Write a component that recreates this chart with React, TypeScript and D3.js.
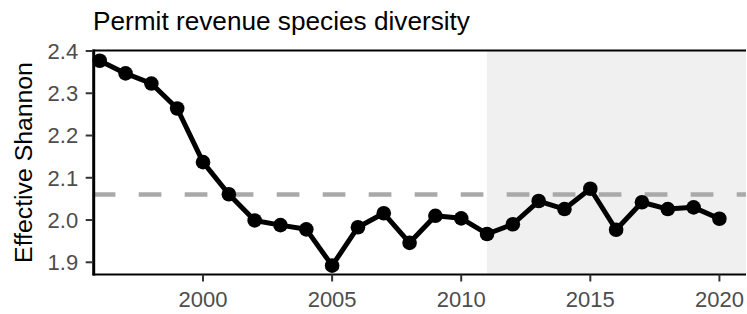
import React from "react";
import * as d3 from "d3";

const years = d3.range(1996, 2021);
const shannon = [
  2.377, 2.347, 2.323, 2.264, 2.137, 2.061, 1.999, 1.988, 1.978, 1.892,
  1.983, 2.016, 1.946, 2.01, 2.004, 1.967, 1.99, 2.045, 2.026, 2.074,
  1.977, 2.042, 2.026, 2.03, 2.003,
];
const xTicks = [2000, 2005, 2010, 2015, 2020];
const yTicks = [1.9, 2.0, 2.1, 2.2, 2.3, 2.4];
const shadeStart = 2011;

const W = 747;
const H = 314;
const m = { left: 92.7, right: 1, top: 50.5, bottom: 39.5 };
const font = "'Liberation Sans', Arial, Helvetica, sans-serif";

export default function App() {
  const data = years.map((yr, i) => ({ yr, v: shannon[i] }));
  const meanV = d3.mean(shannon) as number;

  const x = d3
    .scaleLinear()
    .domain([1995.727, 2021.03])
    .range([m.left, W - m.right]);
  const y = d3
    .scaleLinear()
    .domain([1.8711, 2.4012])
    .range([H - m.bottom, m.top]);

  const line = d3
    .line<{ yr: number; v: number }>()
    .x((d) => x(d.yr))
    .y((d) => y(d.v));

  const [x0, x1] = x.range();
  const [yb, yt] = y.range();

  return (
    <svg
      width={W}
      height={H}
      style={{ position: "absolute", left: 0, top: 0, background: "#fff" }}
      fontFamily={font}
    >
      <text x={93} y={30} fontSize={26.2} fill="#000">
        Permit revenue species diversity
      </text>
      {/* shaded period */}
      <rect
        x={x(shadeStart)}
        y={yt}
        width={x1 - x(shadeStart)}
        height={yb - yt}
        fill="#f0f0f0"
      />
      {/* mean line */}
      <line
        x1={x0}
        x2={x1}
        y1={y(meanV)}
        y2={y(meanV)}
        stroke="#a9a9a9"
        strokeWidth={4.5}
        strokeDasharray="22.7 23.3"
      />
      <path d={line(data) || ""} fill="none" stroke="#000" strokeWidth={5} strokeLinejoin="round" />
      {data.map((d) => (
        <circle key={d.yr} cx={x(d.yr)} cy={y(d.v)} r={7.3} fill="#000" />
      ))}
      {/* axes */}
      <line x1={x0} x2={x1} y1={yt} y2={yt} stroke="#000" strokeWidth={2} />
      <line x1={x0} x2={x1} y1={yb} y2={yb} stroke="#000" strokeWidth={2} />
      <line x1={x0 + 1} x2={x0 + 1} y1={yt - 1} y2={yb + 1} stroke="#000" strokeWidth={3} />
      {yTicks.map((t) => (
        <g key={t} transform={`translate(0,${y(t)})`}>
          <line x1={x0 - 7} x2={x0} stroke="#333" strokeWidth={2} />
          <text
            x={x0 - 14.5}
            dy="0.36em"
            textAnchor="end"
            fontSize={22}
            fill="#4d4d4d"
          >
            {t.toFixed(1)}
          </text>
        </g>
      ))}
      {xTicks.map((t) => (
        <g key={t} transform={`translate(${x(t)},0)`}>
          <line y1={yb} y2={yb + 7} stroke="#333" strokeWidth={2} />
          <text y={306.7} textAnchor="middle" fontSize={22} fill="#4d4d4d">
            {t}
          </text>
        </g>
      ))}
      <text
        transform={`translate(32,${(yt + yb) / 2}) rotate(-90)`}
        textAnchor="middle"
        fontSize={24.8}
        fill="#000"
      >
        Effective Shannon
      </text>
    </svg>
  );
}
